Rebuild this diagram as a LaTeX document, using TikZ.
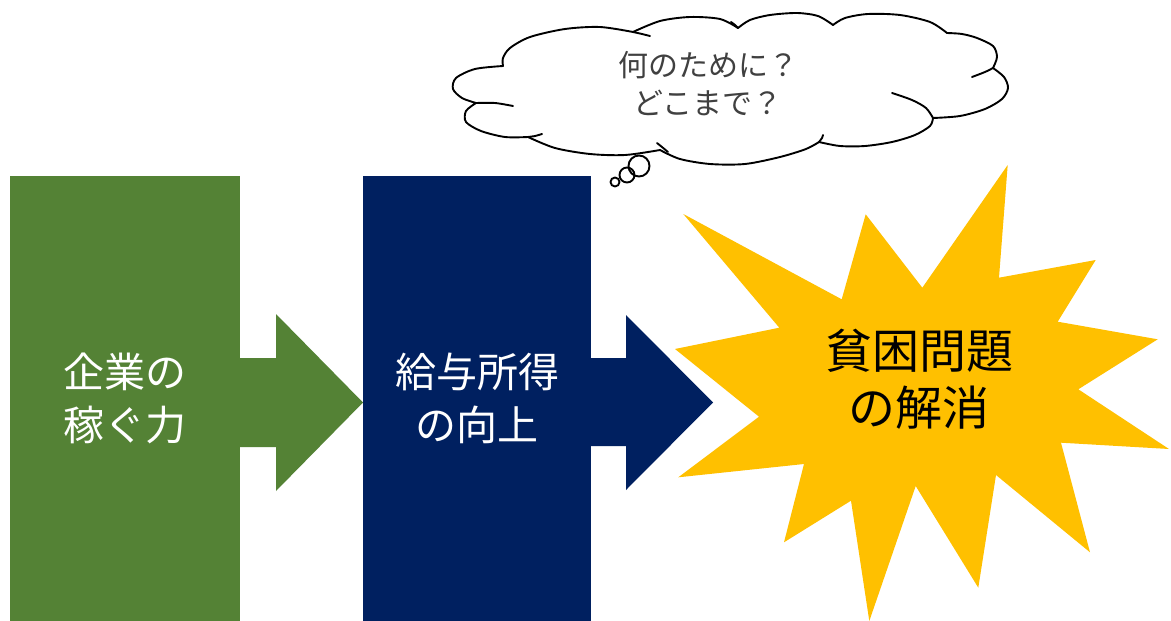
\documentclass[tikz,border=0pt]{standalone}
\usepackage{fontspec}
\newfontfamily\jp{Noto Sans CJK JP}
\definecolor{cgreen}{HTML}{548235}
\definecolor{cnavy}{HTML}{002060}
\definecolor{cyellow}{HTML}{FFC000}
\definecolor{ctext}{HTML}{404040}
\tikzset{
  block/.style={draw=none, inner sep=0pt, align=center, text=white,
    minimum height=445pt, font=\jp\fontsize{41}{53}\selectfont},
  cloudline/.style={draw=black, line width=1.9pt, line join=round, line cap=round},
}
\begin{document}
\begin{tikzpicture}[x=1pt,y=-1pt]
\fill[white] (0,0) rectangle (1171,621);
\useasboundingbox (0,0) rectangle (1171,621);

% blocks
\node[block, fill=cgreen, minimum width=230pt] (earn) at (125,398.5) {企業の\\稼ぐ力};
\node[block, fill=cnavy, minimum width=228pt] (wage) at (477,398.5) {給与所得\\の向上};

% block arrows
\fill[cgreen] (240,358) -- (276,358) -- (276,314) -- (363,402.5) -- (276,491) -- (276,447) -- (240,447) -- cycle;
\fill[cnavy] (591,358) -- (626,358) -- (626,315) -- (713,402.5) -- (626,490) -- (626,446) -- (591,446) -- cycle;

% starburst
\fill[cyellow] (1007.7,165) -- (999,277.7) -- (1095.7,260) -- (1057.7,321.7) -- (1157.7,339.3)
  -- (1078.3,389.3) -- (1169,449) -- (1061,442.7) -- (1090,552.3) -- (996,475)
  -- (978.3,587.7) -- (915.7,486) -- (869.3,621) -- (851,500.7) -- (784,542.3)
  -- (804,464) -- (678.3,477.3) -- (759,416.7) -- (675,349) -- (779.3,327.7)
  -- (683.3,214) -- (841.7,299.3) -- (865.7,214.3) -- (922.3,287.7) -- cycle;
\node[align=center, text=black, font=\jp\fontsize{47}{56.5}\selectfont] (goal) at (919,379) {貧困問題\\の解消};

% cloud
\path[cloudline, fill=white]
  plot[smooth] coordinates {(503,66) (475,69) (456,78) (453,89) (462,98) (476,103)}
  -- plot[smooth] coordinates {(476,103) (466,111) (466,122) (481,131) (505,137) (528,137)}
  -- plot[smooth] coordinates {(528,137) (555,148) (590,154) (625,155) (660,150)}
  -- plot[smooth] coordinates {(660,150) (680,159) (710,164) (745,164) (780,157) (806,149) (819,142)}
  -- plot[smooth] coordinates {(819,142) (840,146) (865,146) (892,142) (915,135) (930,126) (933,118)}
  -- plot[smooth] coordinates {(933,118) (960,116) (985,109) (1002,99) (1008,88) (1004,77) (993,68)}
  -- plot[smooth] coordinates {(993,68) (997,57) (993,46) (977,38) (962,34) (947,33)}
  -- plot[smooth] coordinates {(947,33) (930,22) (900,15) (868,14) (845,18) (833,25)}
  -- plot[smooth] coordinates {(833,25) (818,16) (797,13) (770,15) (750,20) (738,28)}
  -- plot[smooth] coordinates {(738,28) (720,19) (690,17) (660,21) (633,32)}
  -- plot[smooth] coordinates {(633,32) (600,27) (565,29) (530,37) (510,48) (503,58) (503,66)}
  -- cycle;
% inner hooks of the cloud
\draw[cloudline] plot[smooth] coordinates {(476,103) (495,103) (513,106)};
\draw[cloudline] plot[smooth] coordinates {(528,137) (535,136) (542,134)};
\draw[cloudline] plot[smooth] coordinates {(657,143) (662,147) (668,152)};
\draw[cloudline] plot[smooth] coordinates {(819,142) (822,138) (823,135)};
\draw[cloudline] plot[smooth] coordinates {(892,93) (912,100) (926,108) (933,118)};
\draw[cloudline] plot[smooth] coordinates {(972,77) (985,72) (993,68)};
\draw[cloudline] plot[smooth] coordinates {(633,32) (642,34) (650,36)};
\draw[cloudline] plot[smooth] coordinates {(738,28) (735,25) (731,22)};

% thought bubbles
\draw[cloudline] (639,166) circle (10.5);
\draw[cloudline] (627,175) circle (7.5);
\draw[cloudline] (615,182) circle (4.5);

\node[align=center, text=ctext, font=\jp\fontsize{30}{38}\selectfont] (q) at (708,84) {何のために？\\どこまで？};
\end{tikzpicture}
\end{document}
